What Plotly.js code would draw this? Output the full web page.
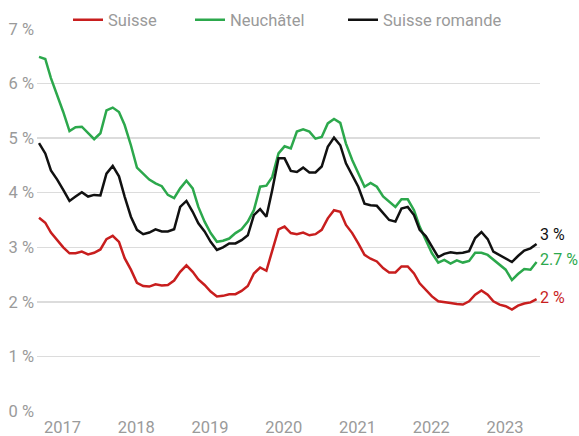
<!DOCTYPE html>
<html><head><meta charset="utf-8">
<script src="https://cdn.plot.ly/plotly-3.0.1.min.js"></script>
<style>html,body{margin:0;padding:0;background:#fff}#chart{width:579px;height:436px}</style>
</head><body><div id="chart"></div>
<script>
// Monthly observations, January 2017 to October 2023
const months = [];
for (let y = 2017; y <= 2023; y++) {
  for (let m = 1; m <= 12; m++) {
    if (y === 2023 && m > 10) break;
    months.push(y + '-' + String(m).padStart(2, '0') + '-01');
  }
}
const seriesNames = ['Suisse', 'Neuchâtel', 'Suisse romande'];
const suisse = [3.54,3.45,3.27,3.13,3.00,2.89,2.89,2.92,2.87,2.90,2.96,3.15,
  3.21,3.10,2.80,2.59,2.35,2.29,2.28,2.32,2.30,2.31,2.39,2.55,
  2.67,2.55,2.41,2.31,2.19,2.10,2.11,2.14,2.14,2.20,2.29,2.52,
  2.63,2.57,2.95,3.33,3.38,3.26,3.24,3.27,3.22,3.24,3.32,3.53,
  3.68,3.65,3.41,3.26,3.07,2.86,2.79,2.74,2.62,2.54,2.54,2.65,
  2.65,2.52,2.34,2.22,2.10,2.01,2.00,1.98,1.96,1.95,2.01,2.13,
  2.21,2.13,2.01,1.95,1.92,1.86,1.93,1.97,1.99,2.05];
const neuchatel = [6.49,6.45,6.10,5.80,5.48,5.13,5.20,5.21,5.10,4.98,5.09,5.51,
  5.56,5.48,5.24,4.87,4.46,4.35,4.24,4.17,4.12,3.96,3.90,4.08,
  4.22,4.08,3.74,3.47,3.26,3.10,3.12,3.16,3.26,3.33,3.47,3.68,
  4.11,4.13,4.29,4.72,4.85,4.81,5.12,5.16,5.12,4.99,5.02,5.27,
  5.35,5.28,4.90,4.60,4.35,4.11,4.18,4.11,3.93,3.84,3.74,3.88,
  3.88,3.68,3.38,3.13,2.89,2.72,2.77,2.70,2.76,2.72,2.75,2.90,
  2.90,2.86,2.77,2.68,2.59,2.40,2.51,2.60,2.59,2.73];
const romande = [4.91,4.72,4.41,4.24,4.05,3.85,3.93,4.01,3.93,3.96,3.95,4.35,
  4.49,4.30,3.93,3.56,3.32,3.24,3.27,3.33,3.29,3.29,3.33,3.74,
  3.85,3.65,3.44,3.29,3.10,2.95,3.00,3.07,3.07,3.13,3.22,3.59,
  3.70,3.56,4.05,4.63,4.63,4.40,4.38,4.46,4.37,4.37,4.48,4.84,
  5.01,4.87,4.54,4.32,4.11,3.80,3.77,3.76,3.62,3.50,3.47,3.71,
  3.74,3.59,3.32,3.20,3.01,2.82,2.88,2.91,2.89,2.90,2.93,3.17,
  3.28,3.15,2.92,2.86,2.80,2.73,2.84,2.94,2.98,3.06];
const endLabels = ['2 %', '2.7 %', '3 %'];
const yearTicks = ['2017-01-01','2018-01-01','2019-01-01','2020-01-01','2021-01-01','2022-01-01','2023-01-01'];
const yearLabels = ['2017','2018','2019','2020','2021','2022','2023'];
const yTickVals = [0,1,2,3,4,5,6,7];
const yTickText = ['0 %','1 %','2 %','3 %','4 %','5 %','6 %','7 %'];

const colors = ['#c81e1e', '#2ca84c', '#111111'];
const FONT = 'Roboto, "Open Sans", sans-serif';
const gray = '#9a9a9a';
const allSeries = [suisse, neuchatel, romande];
const legendIds = ['legend', 'legend2', 'legend3'];

const traces = allSeries.map((vals, i) => ({
  type: 'scatter', mode: 'lines', name: seriesNames[i],
  x: months, y: vals,
  line: {color: colors[i], width: 2.5},
  legend: legendIds[i],
  hoverinfo: 'skip'
}));

const last = months.length - 1;
const yShift = [2, 3, 10];
const annotations = allSeries.map((vals, i) => ({
  x: months[last], y: vals[last], xref: 'x', yref: 'y',
  text: endLabels[i], showarrow: false, xanchor: 'left', yanchor: 'middle',
  xshift: 1, yshift: yShift[i],
  font: {family: FONT, size: 16, color: colors[i]}
}));

function legendAt(xpx) {
  return {
    orientation: 'h',
    xref: 'container', yref: 'container',
    x: xpx / 579, xanchor: 'left',
    y: 1 - 20 / 436, yanchor: 'middle',
    font: {family: FONT, size: 16.5, color: gray},
    bgcolor: 'rgba(0,0,0,0)', borderwidth: 0
  };
}

const layout = {
  width: 579, height: 436,
  margin: {l: 37, r: 39, t: 29, b: 25, autoexpand: false},
  paper_bgcolor: '#fff', plot_bgcolor: '#fff',
  showlegend: true,
  legend: legendAt(68),
  legend2: legendAt(190),
  legend3: legendAt(343),
  xaxis: {
    type: 'date', range: ['2016-12-22', '2023-10-18'],
    tickmode: 'array', tickvals: yearTicks, ticktext: yearLabels,
    ticklabelposition: 'outside right',
    ticklabelshift: 5, ticklabelstandoff: 4,
    showgrid: false, zeroline: false, showline: false, ticks: '',
    tickfont: {family: FONT, size: 16.5, color: gray}
  },
  yaxis: {
    range: [0, 7], tickmode: 'array', tickvals: yTickVals, ticktext: yTickText,
    showgrid: true, gridcolor: '#dcdcdc', gridwidth: 1.5,
    zeroline: false, showline: false, ticks: '',
    ticklabelstandoff: 2,
    tickfont: {family: FONT, size: 16.5, color: gray}
  },
  annotations: annotations
};

Plotly.newPlot('chart', traces, layout, {displayModeBar: false, staticPlot: true});
</script>
</body></html>
